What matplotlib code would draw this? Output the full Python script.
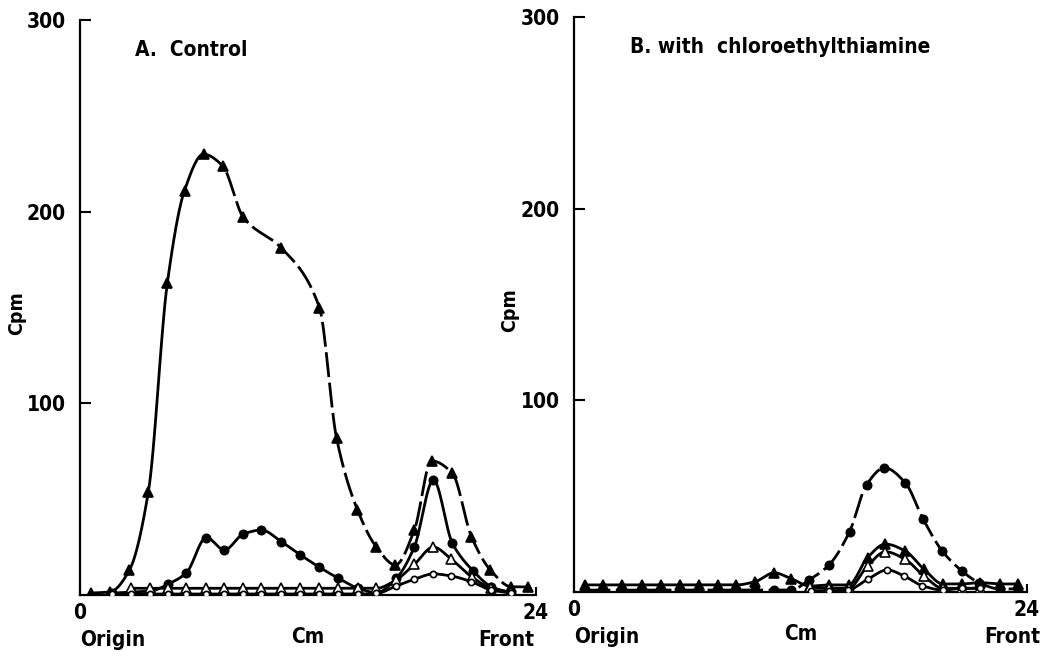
import numpy as np
import matplotlib
matplotlib.use("Agg")
import matplotlib.pyplot as plt
from matplotlib.transforms import blended_transform_factory

plt.rcParams["font.family"] = ["DejaVu Sans"]
plt.rcParams["font.stretch"] = "condensed"
plt.rcParams["font.weight"] = "bold"

# --- A. Control ---
a_tri_x = [0.6, 1.6, 2.6, 3.6, 4.6, 5.5, 6.5, 7.5, 8.6, 10.6, 12.6, 13.5, 14.6,
           15.6, 16.6, 17.6, 18.5, 19.6, 20.6, 21.6, 22.7, 23.6]
a_tri_y = [1, 1.7, 13, 54, 163, 211, 230, 224, 197, 181, 150, 82, 44.5,
           25, 15.7, 34, 70, 63.5, 30.5, 13, 4.3, 4.2]

a_dot_x = [1.7, 2.7, 3.7, 4.65, 5.6, 6.65, 7.6, 8.6, 9.55, 10.6, 11.6, 12.6,
           13.6, 14.65, 15.6, 16.65, 17.6, 18.6, 19.6, 20.7, 21.65, 22.7]
a_dot_y = [1, 1.5, 2, 5.7, 11.6, 30, 23.5, 31.8, 33.9, 27.8, 20.9, 14.5,
           8.7, 3.5, 1.2, 8.7, 25.2, 60, 27, 12.5, 4.3, 1]

a_otri_x = [2.7, 3.7, 4.65, 5.6, 6.65, 7.6, 8.6, 9.55, 10.6, 11.6, 12.6, 13.6,
            14.65, 15.6, 16.65, 17.6, 18.6, 19.55, 20.65, 21.65, 22.7]
a_otri_y = [3.5, 3.5, 3.5, 3.5, 3.5, 3.5, 3.5, 3.5, 3.5, 3.5, 3.5, 3.5,
            3.5, 3.5, 8, 16, 25, 18.6, 9.2, 3.5, 1.5]

a_ocir_x = [1.7, 2.7, 3.7, 4.65, 5.6, 6.65, 7.6, 8.6, 9.55, 10.6, 11.6, 12.6,
            13.6, 14.65, 15.6, 16.65, 17.6, 18.6, 19.55, 20.6, 21.65, 22.7]
a_ocir_y = [0.5, 0.5, 0.5, 0.5, 0.5, 0.5, 0.5, 0.5, 0.5, 0.5, 0.5, 0.5,
            0.5, 0.5, 0.8, 4.7, 8.2, 11, 9.9, 6.9, 2.6, 1]

# --- B. with chloroethylthiamine ---
b_tri_x = [0.6, 1.55, 2.55, 3.6, 4.6, 5.6, 6.6, 7.65, 8.6, 9.6, 10.6, 11.5,
           12.5, 13.5, 14.55, 15.55, 16.5, 17.55, 18.55, 19.55, 20.55, 21.5,
           22.55, 23.5]
b_tri_y = [3.7, 3.7, 3.7, 3.7, 3.7, 3.7, 3.7, 3.7, 3.7, 5.4, 10, 7, 3.1, 3.7,
           3.7, 18, 25, 21.4, 11.8, 4.2, 4.2, 4.9, 4.2, 4.2]

b_dot_x = [0.6, 1.55, 2.55, 3.6, 4.6, 5.6, 6.6, 7.65, 8.6, 9.6, 10.6, 11.5,
           12.45, 13.5, 14.6, 15.5, 16.45, 17.55, 18.5, 19.5, 20.55, 21.45,
           22.55, 23.5]
b_dot_y = [1, 1, 1, 1, 1, 1, 1, 1, 1, 1, 1, 1, 6.3, 14, 31.5, 56, 64.8, 57,
           38, 21.5, 11, 4.9, 1.6, 1.6]

b_otri_x = [12.5, 13.5, 14.55, 15.55, 16.5, 17.55, 18.55, 19.55, 20.55, 21.5]
b_otri_y = [2.5, 2, 2, 13.6, 21, 17, 8.3, 1.9, 2, 2]

b_ocir_x = [12.55, 13.5, 14.5, 15.55, 16.6, 17.5, 18.45, 19.55, 20.55, 21.5]
b_ocir_y = [0.7, 0.7, 1, 6.6, 11.5, 8.3, 3.3, 1, 1.9, 1.9]

DASH = (0, (9, 2))


def smooth(x, y, n=16):
    # monotone cubic (pchip) through the measured points, only for the drawn curve
    x = np.asarray(x, float)
    y = np.asarray(y, float)
    h = np.diff(x)
    dl = np.diff(y) / h
    d = np.zeros_like(y)
    d[0], d[-1] = dl[0], dl[-1]
    for k in range(1, len(x) - 1):
        if dl[k - 1] * dl[k] > 0:
            w1 = 2 * h[k] + h[k - 1]
            w2 = h[k] + 2 * h[k - 1]
            d[k] = (w1 + w2) / (w1 / dl[k - 1] + w2 / dl[k])
    t = np.linspace(0, 1, n, endpoint=False)
    h00 = 2 * t**3 - 3 * t**2 + 1
    h10 = t**3 - 2 * t**2 + t
    h01 = -2 * t**3 + 3 * t**2
    h11 = t**3 - t**2
    xs, ys = [], []
    for k in range(len(x) - 1):
        xs.append(x[k] + t * h[k])
        ys.append(h00 * y[k] + h10 * h[k] * d[k] + h01 * y[k + 1] + h11 * h[k] * d[k + 1])
    xs.append([x[-1]])
    ys.append([y[-1]])
    return np.concatenate(xs), np.concatenate(ys)


def series(ax, x, y, marker, filled, ms, dash_from=None):
    sx, sy = smooth(x, y)
    if dash_from is None:
        ax.plot(sx, sy, color="black", lw=2, zorder=2)
    else:
        i = int(np.searchsorted(sx, dash_from))
        if i > 0:
            ax.plot(sx[:i + 1], sy[:i + 1], color="black", lw=2, zorder=2)
        ax.plot(sx[i:], sy[i:], color="black", lw=2, ls=DASH, zorder=2)
    ax.plot(x, y, ls="none", marker=marker, ms=ms, mew=1.2,
            mfc="black" if filled else "white", mec="black", zorder=3)


def style(ax, title, title_x, cpm_x, front_x):
    ax.set_xlim(0, 24)
    ax.set_ylim(0, 300)
    for s in ("top", "right"):
        ax.spines[s].set_visible(False)
    for s in ("left", "bottom"):
        ax.spines[s].set_linewidth(1.6)
    ax.set_yticks([100, 200, 300])
    ax.set_xticks([0, 24])
    ax.tick_params(axis="y", direction="in", length=8, width=1.5, pad=10,
                   labelsize=15)
    ax.tick_params(axis="x", direction="in", length=6, width=1.5, pad=6,
                   labelsize=15)
    ax.patch.set_visible(False)
    ax.text(title_x, 0.947, title, transform=ax.transAxes, fontsize=15,
            fontweight="bold", va="center", ha="left")
    ax.text(cpm_x, 0.49, "Cpm", transform=ax.transAxes, fontsize=14,
            fontweight="bold", rotation=90, va="center", ha="center")
    tr = blended_transform_factory(ax.transData, ax.transAxes)
    ax.text(0.0, -0.078, "Origin", transform=tr, fontsize=15,
            fontweight="bold", va="center", ha="left")
    ax.text(12.0, -0.073, "Cm", transform=tr, fontsize=15,
            fontweight="bold", va="center", ha="center")
    ax.text(front_x, -0.078, "Front", transform=tr, fontsize=15,
            fontweight="bold", va="center", ha="right")


fig = plt.figure(figsize=(10.44, 6.57), dpi=100)
axA = fig.add_axes([80 / 1044, 62 / 657, 456 / 1044, 575 / 657])
axB = fig.add_axes([574 / 1044, 65 / 657, 453 / 1044, 575 / 657])

series(axA, a_tri_x, a_tri_y, "^", True, 6.5, dash_from=6.5)
series(axA, a_dot_x, a_dot_y, "o", True, 6)
series(axA, a_otri_x, a_otri_y, "^", False, 6.5)
series(axA, a_ocir_x, a_ocir_y, "o", False, 4.5)
style(axA, "A.  Control", 0.12, -0.138, 23.9)

series(axB, b_dot_x, b_dot_y, "o", True, 6, dash_from=0)
series(axB, b_tri_x, b_tri_y, "^", True, 6.5)
series(axB, b_otri_x, b_otri_y, "^", False, 6.5)
series(axB, b_ocir_x, b_ocir_y, "o", False, 4.5)
style(axB, "B. with  chloroethylthiamine", 0.124, -0.142, 24.7)

fig.savefig("out.png", dpi=100)
